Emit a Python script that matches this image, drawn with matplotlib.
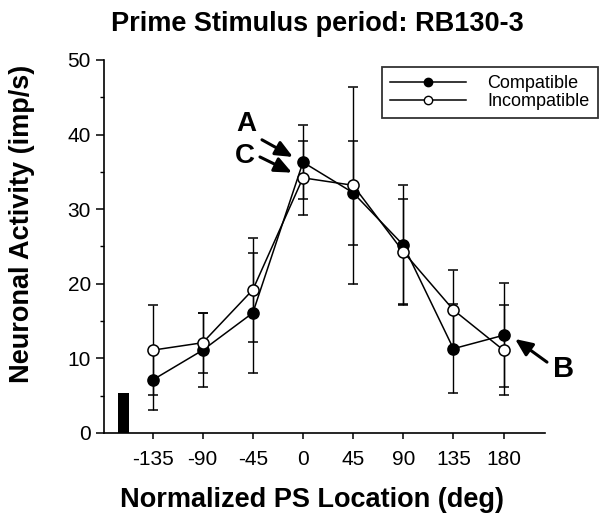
import matplotlib.pyplot as plt
from matplotlib.lines import Line2D

plt.rcParams['font.family'] = ['Liberation Sans', 'DejaVu Sans']

# PS locations (deg)
locations = [-135, -90, -45, 0, 45, 90, 135, 180]

compatible = [7.1, 11.1, 16.1, 36.3, 32.2, 25.2, 11.3, 13.1]
compatible_err = [4, 5, 8, 5, 7, 8, 6, 7]

incompatible = [11.1, 12.1, 19.2, 34.2, 33.2, 24.3, 16.5, 11.1]
incompatible_err = [6, 4, 7, 5, 13.2, 7, 5.3, 6]

# black bar at the left of the axis
bar_x = -161
bar_height = 5.3

fig = plt.figure(figsize=(6.01, 5.17), dpi=100)
ax = fig.add_axes([0.1730, 0.1625, 0.7338, 0.7215])

ax.errorbar(locations, compatible, yerr=compatible_err, color='black', lw=1.1,
            marker='o', ms=8, mfc='black', mec='black', mew=1.1, capsize=3.5,
            elinewidth=1.0, capthick=1.0, zorder=3)
ax.errorbar(locations, incompatible, yerr=incompatible_err, color='black', lw=1.1,
            marker='o', ms=8, mfc='white', mec='black', mew=1.1, capsize=3.5,
            elinewidth=1.0, capthick=1.0, zorder=4)
ax.bar([bar_x], [bar_height], width=10, color='black', zorder=2)

ax.set_xlim(-178.6, 217.2)
ax.set_ylim(0, 50)
ax.set_xticks(locations)
ax.set_xticklabels([str(v) for v in locations])
ax.set_yticks([0, 10, 20, 30, 40, 50])
ax.set_yticks([5, 15, 25, 35, 45], minor=True)
ax.tick_params(axis='x', labelsize=15, direction='out', length=4.5, width=1.1, pad=8)
ax.tick_params(axis='y', labelsize=15, direction='out', length=6, width=1.1, pad=3.5)
ax.tick_params(axis='y', which='minor', length=3, width=1.0)

for side in ['top', 'right']:
    ax.spines[side].set_visible(False)
ax.spines['left'].set_linewidth(1.2)
ax.spines['bottom'].set_linewidth(1.2)

fig.text(0.5275, 0.9536, 'Prime Stimulus period: RB130-3', fontsize=19.5,
         fontweight='bold', ha='center', va='center')
ax.set_xlabel('Normalized PS Location (deg)', fontsize=19.5, fontweight='bold')
ax.xaxis.label.set_va('center')
ax.xaxis.set_label_coords(0.4717, -0.180)
ax.set_ylabel('Neuronal Activity (imp/s)', fontsize=19.5, fontweight='bold')
ax.yaxis.label.set_va('center')
ax.yaxis.set_label_coords(-0.186, 0.5617)

handles = [
    Line2D([], [], color='black', lw=1.1, marker='o', ms=6, mfc='black', mec='black'),
    Line2D([], [], color='black', lw=1.1, marker='o', ms=6, mfc='white', mec='black'),
]
leg = ax.legend(handles, ['Compatible', 'Incompatible'], loc='upper right',
                bbox_to_anchor=(598 / 601, 1 - 67 / 517), bbox_transform=fig.transFigure,
                fontsize=13, frameon=True, fancybox=False, edgecolor='black',
                handlelength=4.2, handletextpad=1.2, borderpad=0.45, labelspacing=0.05,
                borderaxespad=0)
leg.get_frame().set_linewidth(1.3)

# letter annotations with arrows
arrow = dict(arrowstyle='-|>,head_length=0.8,head_width=0.35', color='black', lw=2.2,
             shrinkA=0, shrinkB=0, mutation_scale=13)
ax.text(-51.2, 41.4, 'A', fontsize=20, fontweight='bold', ha='center', va='center')
ax.text(-52.0, 37.1, 'C', fontsize=20, fontweight='bold', ha='center', va='center')
ax.text(234.2, 8.6, 'B', fontsize=21, fontweight='bold', ha='center', va='center',
        clip_on=False)
ax.annotate('', xy=(-9.0, 37.0), xytext=(-36.8, 39.3), arrowprops=arrow)
ax.annotate('', xy=(-9.9, 34.9), xytext=(-38.6, 37.0), arrowprops=arrow)
ax.annotate('', xy=(190.3, 12.6), xytext=(219.0, 9.5), arrowprops=arrow,
            annotation_clip=False)

fig.savefig('out.png', dpi=100)
